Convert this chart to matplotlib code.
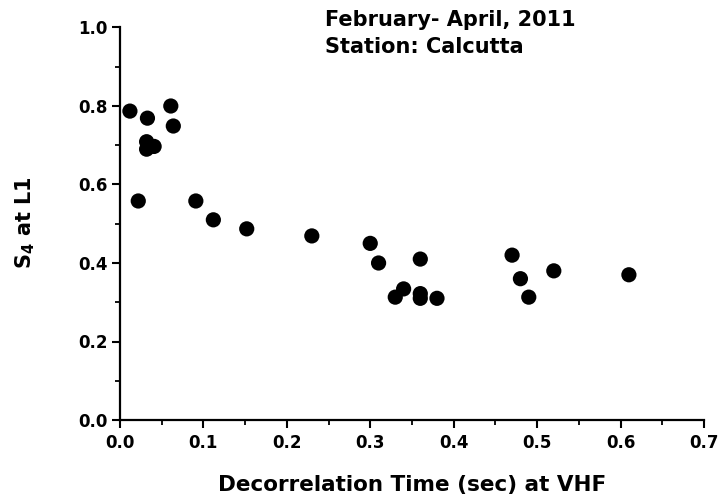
import matplotlib
matplotlib.use("Agg")
import matplotlib.pyplot as plt
from matplotlib.ticker import MultipleLocator, FormatStrFormatter

plt.rcParams['font.family'] = ['DejaVu Sans']

# Decorrelation time (s) at VHF vs S4 at L1
decorr_time = [0.012, 0.033, 0.061, 0.064, 0.032, 0.041, 0.032, 0.022, 0.091,
               0.112, 0.152, 0.23, 0.30, 0.31, 0.36, 0.33, 0.34, 0.36, 0.36,
               0.38, 0.47, 0.48, 0.49, 0.52, 0.61]
s4_l1 = [0.787, 0.769, 0.80, 0.749, 0.709, 0.697, 0.690, 0.558, 0.558,
         0.51, 0.487, 0.469, 0.45, 0.40, 0.41, 0.313, 0.334, 0.322, 0.310,
         0.31, 0.42, 0.36, 0.313, 0.38, 0.37]

fig = plt.figure(figsize=(7.18, 5.0), dpi=100)
ax = fig.add_axes([0.167, 0.16, 0.8135, 0.785])

ax.scatter(decorr_time, s4_l1, s=120, color='black', edgecolors='none', zorder=3)

ax.set_xlim(0, 0.7)
ax.set_ylim(0, 1.0)
ax.xaxis.set_major_locator(MultipleLocator(0.1))
ax.xaxis.set_minor_locator(MultipleLocator(0.05))
ax.yaxis.set_major_locator(MultipleLocator(0.2))
ax.yaxis.set_minor_locator(MultipleLocator(0.1))
ax.xaxis.set_major_formatter(FormatStrFormatter('%.1f'))
ax.yaxis.set_major_formatter(FormatStrFormatter('%.1f'))

for side in ('top', 'right'):
    ax.spines[side].set_visible(False)
for side in ('left', 'bottom'):
    ax.spines[side].set_linewidth(1.6)

ax.tick_params(which='major', direction='out', length=6, width=1.5,
               labelsize=12, pad=4)
ax.tick_params(axis='y', which='major', pad=3)
ax.tick_params(which='minor', direction='out', length=3.5, width=1.3)
for lbl in ax.get_xticklabels() + ax.get_yticklabels():
    lbl.set_fontweight('bold')

ax.set_xlabel('Decorrelation Time (sec) at VHF', fontsize=15.5, fontweight='bold',
              labelpad=17)
ax.set_ylabel(r'S$_\mathbf{4}$ at L1', fontsize=15, fontweight='bold')
ax.yaxis.set_label_coords(-0.142, 0.502)

fig.text(0.4526, 0.981, 'February- April, 2011\nStation: Calcutta',
         fontsize=15, fontweight='bold', va='top', ha='left', linespacing=1.45)

fig.savefig('out.png', dpi=100)
